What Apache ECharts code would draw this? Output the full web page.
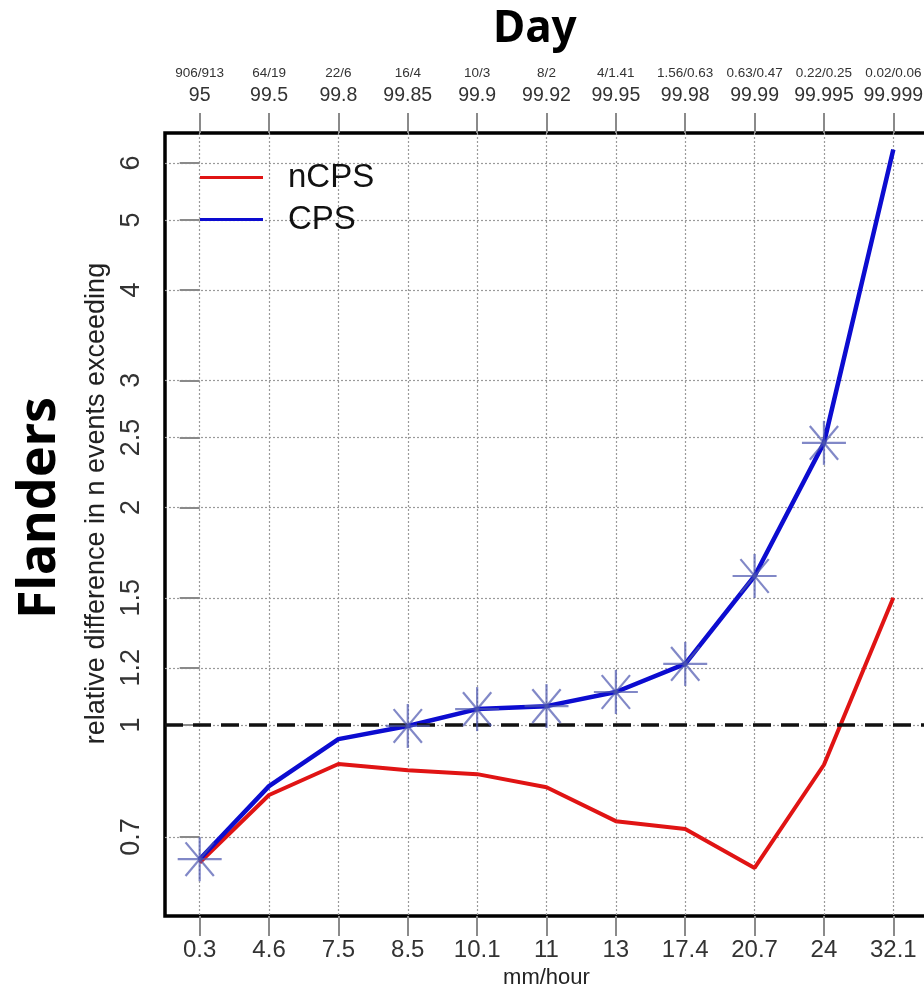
<!DOCTYPE html>
<html>
<head>
<meta charset="utf-8">
<script src="https://cdn.jsdelivr.net/npm/echarts@6/dist/echarts.min.js"></script>
<style>
  html, body { margin: 0; padding: 0; background: #fff; }
  #chart { width: 924px; height: 990px; }
</style>
</head>
<body>
<div id="chart"></div>
<script>
// Rain intensity thresholds (bottom axis) and matching percentiles / event counts (top axis)
const categories = ['0.3', '4.6', '7.5', '8.5', '10.1', '11', '13', '17.4', '20.7', '24', '32.1'];
const topEvents = ['906/913', '64/19', '22/6', '16/4', '10/3', '8/2', '4/1.41', '1.56/0.63', '0.63/0.47', '0.22/0.25', '0.02/0.06'];
const topPercentiles = ['95', '99.5', '99.8', '99.85', '99.9', '99.92', '99.95', '99.98', '99.99', '99.995', '99.999'];

// Relative difference in number of events exceeding each threshold
const ncpsValues = [0.645, 0.80, 0.883, 0.866, 0.855, 0.820, 0.736, 0.718, 0.634, 0.881, 1.50];
const cpsValues = [0.652, 0.823, 0.956, 0.997, 1.052, 1.062, 1.111, 1.215, 1.608, 2.458, 6.26];
// Thresholds where the CPS value is flagged with an asterisk
const cpsFlagged = [true, false, false, true, true, true, true, true, true, true, false];

const yTicks = [0.7, 1, 1.2, 1.5, 2, 2.5, 3, 4, 5, 6];

const catIndex = categories.map((_, i) => i);
const ncpsData = ncpsValues.map((v, i) => [i, v]);
const cpsData = cpsValues.map((v, i) => [i, v]);
const flaggedData = cpsValues.map((v, i) => [i, v]).filter((_, i) => cpsFlagged[i]);

const sans = "'Liberation Sans', Arial, sans-serif";
const heading = "'Noto Sans', sans-serif";
const dotted = { show: true, lineStyle: { color: '#9a9a9a', width: 1.2, type: [2, 2] } };
const tick = { show: true, inside: false, length: 20, lineStyle: { color: '#8a8a8a', width: 2 } };

const chart = echarts.init(document.getElementById('chart'), null, { renderer: 'canvas' });

chart.setOption({
  animation: false,
  backgroundColor: '#fff',
  title: {
    text: 'Day',
    left: 488,
    top: 2,
    textStyle: { fontFamily: heading, fontWeight: 'bold', fontSize: 44, color: '#000' }
  },
  graphic: [{
    type: 'text',
    x: 40,
    y: 508,
    rotation: Math.PI / 2,
    style: {
      text: 'Flanders',
      fontFamily: heading,
      fontWeight: 'bold',
      fontSize: 52,
      fill: '#000',
      align: 'center',
      verticalAlign: 'middle'
    }
  }],
  legend: {
    left: 195,
    top: 156,
    orient: 'vertical',
    itemWidth: 63,
    itemHeight: 3,
    itemGap: 9,
    selectedMode: false,
    data: [{ name: 'nCPS', icon: 'rect' }, { name: 'CPS', icon: 'rect' }],
    textStyle: { fontFamily: sans, fontSize: 33, color: '#111', padding: [0, 0, 0, 20] }
  },
  grid: {
    left: 165,
    right: -4,
    top: 133,
    bottom: 74,
    outerBoundsMode: 'none',
    containLabel: false,
    show: true,
    borderColor: '#000',
    borderWidth: 3.5,
    backgroundColor: 'transparent'
  },
  xAxis: [{
    type: 'value',
    position: 'bottom',
    min: -0.5,
    max: 10.5,
    name: 'mm/hour',
    nameLocation: 'middle',
    nameGap: 50,
    nameTextStyle: { fontFamily: sans, fontSize: 22, color: '#222' },
    axisLine: { show: false },
    axisTick: Object.assign({ customValues: catIndex }, tick),
    axisLabel: {
      customValues: catIndex,
      margin: 22,
      fontFamily: sans,
      fontSize: 24,
      color: '#333',
      formatter: v => categories[Math.round(v)]
    },
    splitLine: dotted
  }, {
    type: 'value',
    position: 'top',
    min: -0.5,
    max: 10.5,
    axisLine: { show: false },
    axisTick: Object.assign({ customValues: catIndex }, tick),
    axisLabel: {
      customValues: catIndex,
      margin: 25,
      color: '#333',
      formatter: v => {
        const i = Math.round(v);
        return '{a|' + topEvents[i] + '}\n{b|' + topPercentiles[i] + '}';
      },
      rich: {
        a: { fontFamily: sans, fontSize: 13.5, lineHeight: 22, color: '#333' },
        b: { fontFamily: sans, fontSize: 19.5, lineHeight: 24, color: '#333' }
      }
    },
    splitLine: { show: false }
  }],
  yAxis: {
    type: 'log',
    logBase: 10,
    min: 0.544,
    max: 6.6,
    name: 'relative difference in n events exceeding',
    nameLocation: 'middle',
    nameRotate: 90,
    nameGap: 54,
    nameTextStyle: { fontFamily: sans, fontSize: 27, color: '#222', padding: [0, 0, 0, 42] },
    axisLine: { show: false },
    axisTick: Object.assign({ customValues: yTicks }, tick),
    axisLabel: {
      customValues: yTicks,
      rotate: 90,
      margin: 20,
      fontFamily: sans,
      fontSize: 27,
      color: '#333',
      formatter: v => String(+v.toFixed(2))
    },
    splitLine: dotted
  },
  series: [{
    name: 'nCPS',
    type: 'line',
    data: ncpsData,
    symbol: 'none',
    color: '#e01414',
    lineStyle: { color: '#e01414', width: 4 },
    z: 3,
    markLine: {
      silent: true,
      symbol: 'none',
      label: { show: false },
      lineStyle: { color: '#111', width: 3.5, type: [18, 10] },
      data: [{ yAxis: 1 }]
    }
  }, {
    name: 'CPS',
    type: 'line',
    data: cpsData,
    symbol: 'none',
    color: '#0c0cd0',
    lineStyle: { color: '#0c0cd0', width: 4.5 },
    z: 4
  }, {
    name: 'CPS flagged',
    type: 'custom',
    data: flaggedData,
    z: 5,
    silent: true,
    renderItem: (params, api) => {
      const p = api.coord([api.value(0), api.value(1)]);
      const r = 22;
      const children = [0, 50, 90, 130].map(deg => {
        const a = deg * Math.PI / 180;
        const dx = r * Math.cos(a), dy = r * Math.sin(a);
        return {
          type: 'line',
          shape: { x1: p[0] - dx, y1: p[1] - dy, x2: p[0] + dx, y2: p[1] + dy },
          style: { stroke: 'rgba(75, 85, 175, 0.7)', lineWidth: 2.2 }
        };
      });
      return { type: 'group', children };
    }
  }]
});
</script>
</body>
</html>
